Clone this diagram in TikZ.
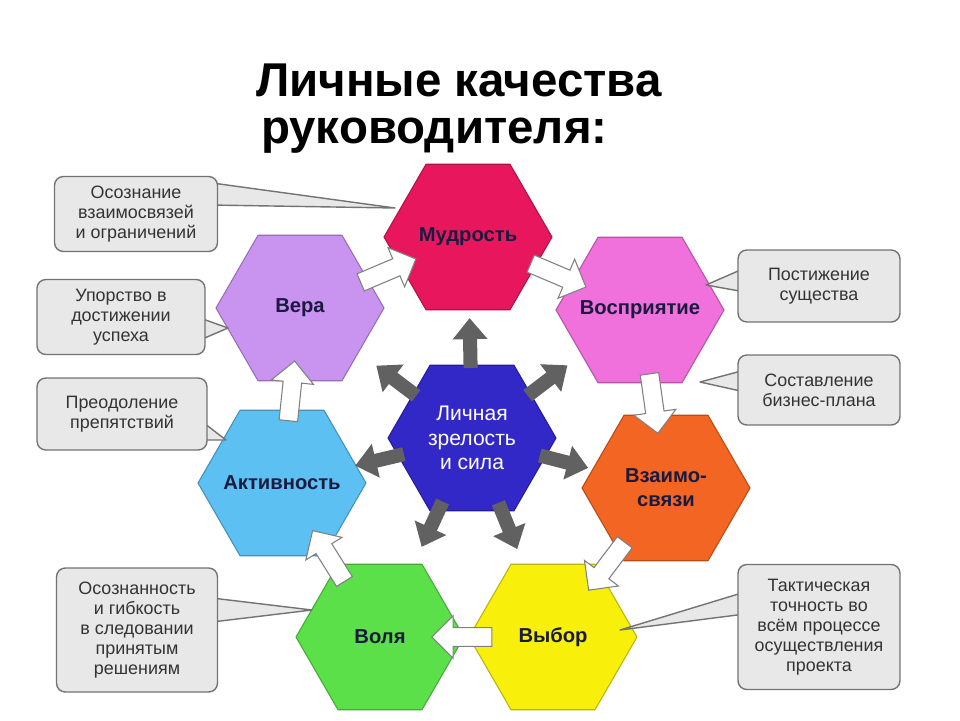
\documentclass[tikz,border=0pt]{standalone}
\usepackage{fontspec}
\setmainfont{Liberation Sans}
\usetikzlibrary{shapes.geometric,shapes.arrows,calc,arrows.meta}
\definecolor{cMud}{HTML}{E8175D}
\definecolor{cVer}{HTML}{C993F0}
\definecolor{cVos}{HTML}{F070DC}
\definecolor{cCen}{HTML}{3228C8}
\definecolor{cAkt}{HTML}{5CC0F2}
\definecolor{cVza}{HTML}{F26522}
\definecolor{cVol}{HTML}{5CE04A}
\definecolor{cVyb}{HTML}{F8F00A}
\definecolor{hexText}{HTML}{1A1A40}
\definecolor{boxFill}{HTML}{E8E8E8}
\tikzset{
  hexnode/.style={regular polygon, regular polygon sides=6, minimum size=3.36cm, inner sep=-20pt,
    draw=#1!75!black, fill=#1, line width=0.6pt, font=\bfseries\fontsize{11.5}{13.5}\selectfont,
    text=hexText, align=center},
  callbox/.style={draw=black!55, fill=boxFill, rounded corners=5pt, line width=0.8pt,
    font=\fontsize{10.2}{11.4}\selectfont, text=black!80, align=center, inner sep=0pt},
  pointer/.style={draw=black!55, fill=boxFill, line width=0.8pt, line join=round},
  blockarr/.style={single arrow, draw=black!50, fill=white, line width=0.6pt, minimum height=1.2cm,
    minimum width=0.85cm, inner sep=3.2pt, single arrow head extend=4.5pt},
  darkarr/.style={line width=8pt, black!62, -{Triangle[width=19pt,length=12pt]}}
}
\begin{document}
\begin{tikzpicture}[x=0.02cm,y=-0.02cm]
\useasboundingbox[fill=white] (0,0) rectangle (960,720);
\node[font=\bfseries\fontsize{27}{30}\selectfont, anchor=west] (t1) at (250,80) {Личные качества};
\node[font=\bfseries\fontsize{27}{30}\selectfont, anchor=west] (t2) at (255,136) {руководителя:};

\node[hexnode=cMud] (mud) at (468,237) {Мудрость};
\node[hexnode=cVer] (ver) at (300,308) {Вера};
\node[hexnode=cVos] (vos) at (640,310) {Восприятие};
\node[hexnode=cCen, text=white, font=\fontsize{12}{14}\selectfont] (cen) at (472,438) {Личная\\зрелость\\и сила};
\node[hexnode=cAkt] (akt) at (282,483) {Активность};
\node[hexnode=cVza] (vza) at (666,488) {Взаимо-\\связи};
\node[hexnode=cVol] (vol) at (380,637) {Воля};
\node[hexnode=cVyb] (vyb) at (553,637) {Выбор};

% white block arrows
\node[blockarr, rotate=23] (b1) at ($(ver)!0.5!(mud)$) {};
\node[blockarr, rotate=-23] (b2) at ($(mud)!0.5!(vos)$) {};
\node[blockarr, rotate=-82] (b3) at ($(vos)!0.5!(vza)$) {};
\node[blockarr, rotate=-127] (b4) at ($(vza)!0.5!(vyb)$) {};
\node[blockarr, rotate=180] (b5) at ($(vyb)!0.5!(vol)$) {};
\node[blockarr, rotate=122] (b6) at ($(vol)!0.5!(akt)$) {};
\node[blockarr, rotate=84] (b7) at ($(akt)!0.5!(ver)$) {};

% dark arrows from centre
\foreach \t in {mud,ver,vos,akt,vza,vol,vyb}{
  \draw[darkarr] ($(cen)!1.4cm!(\t)$) -- ($(cen)!2.4cm!(\t)$);
}

% callouts
\coordinate (p1) at (395,208);
\coordinate (p2) at (228,328);
\coordinate (p3) at (226,440);
\coordinate (p4) at (312,610);
\coordinate (p5) at (706,285);
\coordinate (p6) at (700,382);
\coordinate (p7) at (620,630);
\filldraw[pointer] (205,182) -- (p1) -- (210,205) -- cycle;
\filldraw[pointer] (200,318) -- (p2) -- (200,340) -- cycle;
\filldraw[pointer] (200,420) -- (p3) -- (200,440) -- cycle;
\filldraw[pointer] (212,598) -- (p4) -- (212,622) -- cycle;
\filldraw[pointer] (745,268) -- (p5) -- (745,292) -- cycle;
\filldraw[pointer] (745,370) -- (p6) -- (745,392) -- cycle;
\filldraw[pointer] (745,592) -- (p7) -- (745,614) -- cycle;

\node[callbox, minimum width=3.26cm, minimum height=1.5cm] (c1) at (136,214) {Осознание\\взаимосвязей\\и ограничений};
\node[callbox, minimum width=3.36cm, minimum height=1.5cm] (c2) at (121,317) {Упорство в\\достижении\\успеха};
\node[callbox, minimum width=3.4cm, minimum height=1.44cm] (c3) at (122,414) {Преодоление\\препятствий};
\node[callbox, minimum width=3.22cm, minimum height=2.48cm] (c4) at (137,630) {Осознанность\\и гибкость\\в следовании\\принятым\\решениям};
\node[callbox, minimum width=3.24cm, minimum height=1.44cm] (c5) at (819,286) {Постижение\\существа};
\node[callbox, minimum width=3.24cm, minimum height=1.4cm] (c6) at (819,390) {Составление\\бизнес-плана};
\node[callbox, minimum width=3.24cm, minimum height=2.5cm] (c7) at (819,627) {Тактическая\\точность во\\всём процессе\\осуществления\\проекта};
\end{tikzpicture}
\end{document}
